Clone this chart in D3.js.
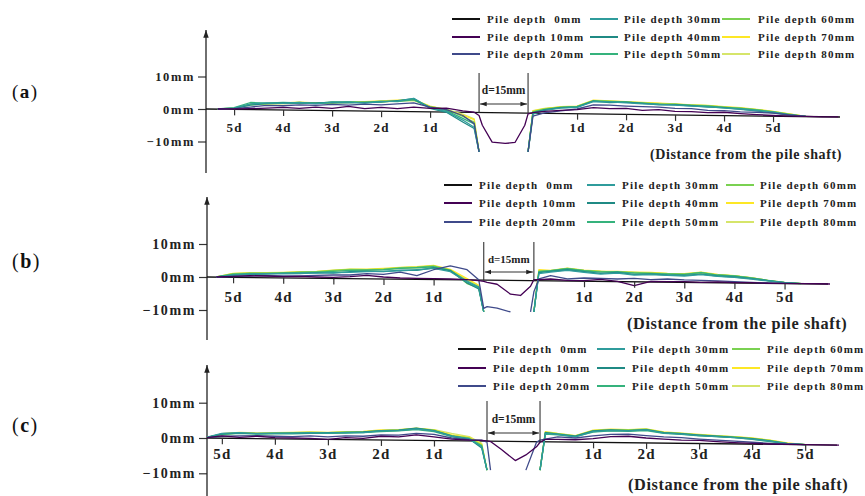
<!DOCTYPE html>
<html><head><meta charset="utf-8">
<script src="https://cdn.jsdelivr.net/npm/d3@7"></script>
<style>
html,body{margin:0;padding:0;background:#fff;}
svg{display:block;font-family:"Liberation Serif","Times New Roman",serif;}
</style></head><body>
<svg id="chart" width="865" height="496"></svg>
<script>
const _ = null;
// distance along the surface in mm (pile occupies 0..15 mm, d = 15 mm)
const xGrid = [-80,-75,-70,-65,-60,-55,-50,-45,-40,-35,-30,-25,-20,-15,-10,-5,-1.5,0,1,4,8,11,14,15,16.5,20,25,30,35,40,45,50,55,60,65,70,75,80,85,90,95,100,105,110];

const seriesLabels = ["Pile depth  0mm","Pile depth 10mm","Pile depth 20mm","Pile depth 30mm","Pile depth 40mm","Pile depth 50mm","Pile depth 60mm","Pile depth 70mm","Pile depth 80mm"];

// (a) surface displacement in mm
const zeroA = [[-83.6,0],[110.5,-2.46]];
const A10 = [0,0,0.1,0.3,0.5,0.2,0.6,0.2,0.8,0.1,0.5,0.1,0.6,0.2,0.3,-0.6,-1.0,-2.0,-5.0,-10.2,-10.6,-10.3,-5.0,-1.5,-1.1,-0.7,-0.4,-0.2,0.4,0.1,0.2,-0.4,-0.2,-0.7,-0.8,-1.1,-1.0,-1.4,-1.7,-2.0,-2.2,-2.3,-2.4,-2.45];
const A20 = [0,0.1,0.6,1.1,1.0,1.3,1.1,1.4,1.2,1.5,1.3,1.6,1.9,0.6,-0.2,-2.0,-4.5,-13.2,_,_,_,_,_,-13.2,-2.2,-1.2,-0.6,0.0,1.3,1.2,0.9,0.7,0.6,0.2,0.1,-0.4,-0.5,-0.9,-1.0,-1.3,-1.8,-2.3,_,_];
const A30 = [0,0.3,1.6,1.9,1.7,2.0,1.6,2.1,2.2,1.8,2.3,2.4,3.3,0.4,-0.8,-3.4,-5.6,-13.2,_,_,_,_,_,-13.2,-1.6,-0.4,0.3,0.5,2.3,2.2,1.9,1.6,1.4,1.2,0.9,0.7,0.3,0.0,-0.5,-1.0,-1.8,-2.3,_,_];
const A40 = [0,0.2,1.2,1.7,1.9,1.8,1.9,2.0,1.9,2.0,2.1,2.6,3.2,0.2,-1.0,-4.0,-6.0,-13.2,_,_,_,_,_,-13.2,-1.3,-0.3,0.4,0.6,2.4,2.0,2.1,1.7,1.3,1.3,1.0,0.6,0.4,-0.1,-0.6,-1.2,-1.9,-2.3,_,_];
const A50 = [0,0.4,2.0,1.8,2.0,1.9,1.7,2.2,2.1,2.0,2.4,2.3,2.8,0.5,-0.5,-2.9,-4.6,-13.2,_,_,_,_,_,-13.2,-1.0,-0.2,0.5,0.7,2.5,2.3,2.1,1.8,1.5,1.4,1.1,0.9,0.5,0.2,-0.3,-0.9,-1.7,-2.3,_,_];
const A60 = [0,0.2,1.4,1.6,1.8,2.0,1.8,1.9,2.3,2.1,2.2,2.5,2.9,0.7,-0.1,-2.3,-4.0,-13.2,_,_,_,_,_,-13.2,-0.8,0.0,0.6,0.8,2.6,2.4,2.2,1.9,1.6,1.5,1.2,1.0,0.6,0.3,-0.2,-0.8,-1.6,-2.3,_,_];
const A70 = [0,0.3,1.5,1.7,1.9,2.1,1.9,2.0,2.2,2.3,2.5,2.7,2.9,0.9,-0.3,-1.9,-3.3,-13.2,_,_,_,_,_,-13.2,-0.6,0.1,0.7,0.9,2.7,2.5,2.3,2.0,1.8,1.6,1.3,1.1,0.7,0.4,-0.1,-0.7,-1.5,-2.3,_,_];
const A80 = [0,0.2,1.3,1.5,1.6,1.8,1.7,1.8,2.0,2.1,2.2,2.4,2.6,0.8,-0.1,-1.6,-3.0,-13.2,_,_,_,_,_,-13.2,-0.5,0.2,0.6,0.8,2.4,2.3,2.1,1.9,1.7,1.4,1.2,1.0,0.6,0.3,-0.2,-0.8,-1.6,-2.3,_,_];

// (b)
const zeroB = [[-82.8,0],[103,-2.12]];
const B10 = [0,0.2,0.4,0.3,0.1,0.2,0.0,-0.1,0.1,0.5,0.0,-0.3,-0.4,-0.5,-0.6,-0.8,-1.1,-1.3,-1.6,-2.2,-5.2,-5.6,-2.8,-0.8,-0.8,-0.6,-1.0,-1.1,-0.7,-1.3,-2.6,-1.3,-1.4,-1.4,-1.6,-1.5,-1.7,-1.7,-1.9,-1.95,-2.0,-2.05,-2.15,_];
const B20 = [0,0.1,0.3,0.4,0.3,0.3,0.5,0.6,0.6,1.0,0.8,1.5,0.4,2.2,3.4,2.2,-0.8,-9.5,-9.0,-9.4,-10.6,_,-10.6,-4.5,-0.6,0.4,-0.6,-0.3,-0.4,-0.6,-0.4,-0.8,-0.6,-0.9,-1.0,-1.2,-1.4,-1.6,-1.8,-1.95,_,_,_,_];
const B30 = [0,0.6,0.9,1.0,1.0,1.1,1.2,1.3,1.4,1.6,1.7,1.9,2.2,2.6,1.6,-1.5,-3.2,-10.6,_,_,_,_,_,-10.6,1.0,1.5,2.0,1.4,0.9,1.2,0.6,0.7,0.5,0.3,0.7,0.2,-0.1,-0.6,-1.2,-1.7,-2.0,_,_,_];
const B40 = [0,0.5,0.8,0.9,1.1,1.0,1.3,1.2,1.6,1.8,1.6,2.1,2.0,2.8,1.9,-1.8,-3.6,-10.6,_,_,_,_,_,-10.6,1.3,1.7,2.2,1.6,1.1,1.4,0.8,0.9,0.6,0.5,0.9,0.3,0.0,-0.5,-1.1,-1.7,-2.0,_,_,_];
const B50 = [0,0.8,1.1,1.1,1.2,1.4,1.5,1.7,2.0,2.1,2.2,2.6,2.8,3.1,2.0,-1.2,-3.0,-10.6,_,_,_,_,_,-10.6,1.6,1.9,2.5,1.9,1.5,1.6,1.2,1.1,0.9,0.8,1.3,0.6,0.3,-0.3,-1.0,-1.6,-2.0,_,_,_];
const B60 = [0,1.0,1.2,1.2,1.3,1.5,1.6,2.0,2.3,2.2,2.4,2.8,3.0,3.4,2.1,-2.0,-3.3,-10.6,_,_,_,_,_,-10.6,1.8,1.9,2.6,2.0,1.7,1.5,1.4,1.2,1.0,0.9,1.4,0.6,0.3,-0.3,-1.1,-1.7,-2.0,_,_,_];
const B70 = [0,1.1,1.3,1.3,1.4,1.6,1.7,2.1,2.4,2.4,2.6,2.9,3.1,3.5,2.3,-0.5,-2.5,-10.6,_,_,_,_,_,-10.6,2.2,2.0,2.7,2.1,1.8,1.7,1.5,1.4,1.1,1.0,1.5,0.8,0.4,-0.2,-1.0,-1.6,-2.0,_,_,_];
const B80 = [0,0.9,1.1,1.1,1.2,1.4,1.5,1.8,2.1,2.0,2.3,2.6,2.8,3.1,2.0,-0.8,-2.7,-10.6,_,_,_,_,_,-10.6,2.0,1.8,2.4,1.9,1.6,1.5,1.3,1.2,1.0,0.8,1.2,0.6,0.3,-0.3,-1.1,-1.7,-2.0,_,_,_];

// (c)
const zeroC = [[-79.2,0],[99,-2.0]];
const C10 = [0,0.6,0.2,0.5,0.1,0.0,-0.1,-0.4,0.1,-0.1,0.5,0.3,0.9,0.3,-0.3,-0.6,-0.7,-0.8,-1.0,-3.2,-6.4,-4.8,-2.5,-1.2,-0.4,-0.4,-0.5,-0.2,0.4,0.5,0.0,-0.3,-0.6,-0.7,-1.0,-1.3,-1.5,-1.7,-1.8,-1.9,-1.95,-2.0,-2.1,_];
const C20 = [0,0.5,0.6,0.7,0.5,0.4,0.6,0.3,0.6,0.5,0.9,0.8,1.3,1.0,0.0,-0.5,-0.6,-1.2,-9.1,_,_,-9.1,-1.2,-0.6,-0.3,0.3,0.0,0.6,1.0,1.1,0.7,0.3,0.1,-0.3,-0.6,-0.9,-1.2,-1.5,-1.7,-1.9,_,_,_,_];
const C30 = [0,1.3,1.5,1.2,1.4,1.3,1.5,1.4,1.6,1.5,2.0,2.1,2.6,2.0,0.5,-0.2,-2.5,-9.1,_,_,_,_,_,-9.1,1.3,1.0,0.3,1.8,2.1,2.0,2.3,1.4,1.1,0.7,0.4,0.1,-0.3,-0.9,-1.6,-1.9,_,_,_,_];
const C40 = [0,1.2,1.4,1.3,1.3,1.4,1.4,1.5,1.5,1.7,2.1,2.2,2.8,2.1,0.6,-0.3,-2.8,-9.1,_,_,_,_,_,-9.1,1.5,1.1,0.5,2.0,2.3,2.1,2.4,1.5,1.2,0.8,0.5,0.2,-0.2,-0.8,-1.6,-1.9,_,_,_,_];
const C50 = [0,1.0,1.3,1.1,1.2,1.2,1.3,1.3,1.4,1.5,1.8,2.0,2.4,1.8,0.4,-0.4,-2.2,-9.1,_,_,_,_,_,-9.1,1.1,0.9,0.4,1.7,2.0,1.9,2.1,1.3,1.0,0.6,0.4,0.1,-0.4,-1.0,-1.6,-1.9,_,_,_,_];
const C60 = [0,1.1,1.4,1.3,1.4,1.5,1.6,1.5,1.7,1.7,2.1,2.3,2.7,2.2,0.7,0.0,-2.0,-9.1,_,_,_,_,_,-9.1,1.6,1.2,0.6,2.1,2.4,2.3,2.5,1.6,1.3,0.9,0.6,0.3,-0.1,-0.7,-1.5,-1.9,_,_,_,_];
const C70 = [0,1.2,1.6,1.4,1.5,1.6,1.7,1.6,1.8,1.9,2.3,2.4,2.8,2.3,0.9,0.2,-1.8,-9.1,_,_,_,_,_,-9.1,1.8,1.3,0.7,2.2,2.5,2.4,2.6,1.7,1.4,1.0,0.7,0.4,0.0,-0.6,-1.4,-1.9,_,_,_,_];
const C80 = [0,1.0,1.4,1.2,1.3,1.4,1.5,1.4,1.6,1.7,2.0,2.2,2.5,2.4,1.3,0.4,-1.5,-9.1,_,_,_,_,_,-9.1,1.4,1.0,0.5,1.9,2.2,2.1,2.3,1.5,1.2,0.8,0.5,0.3,-0.1,-0.7,-1.5,-1.9,_,_,_,_];

const leftTicks = [-75,-60,-45,-30,-15];
const rightTicks = [30,45,60,75,90];
const xTickLabels = ["5d","4d","3d","2d","1d","1d","2d","3d","4d","5d"];
const yTickValues = [10,0,-10];
const yTickLabels = ["10mm","0mm","\u221210mm"];
const pileSpan = [0,15];
const pileLabel = "d=15mm";
const distanceLabel = "(Distance from the pile shaft)";
const panelLetters = ["a","b","c"];

// styles
const depthColors = ["#111111","#440154","#3f4a8a","#2f9c9c","#1f8a84","#35b27c","#7ad151","#fde725","#d6e56a"];

const panelData = [
  {zero: zeroA, series: [A10,A20,A30,A40,A50,A60,A70,A80]},
  {zero: zeroB, series: [B10,B20,B30,B40,B50,B60,B70,B80]},
  {zero: zeroC, series: [C10,C20,C30,C40,C50,C60,C70,C80]}
];

const layout = [
  {labelX:12, labelY:98, labelFont:19, axisX:206, axisTop:28, axisBottom:173,
   xRng:[206,840], y0:109, pxPer10:32.5, yFont:12.5, xFont:13, xLabelY:132,
   legRows:[19,37,54], legLineX:[452,590,722], legTextX:[487,624,758], legFont:11,
   distX:650, distY:159, distFont:14, pileTop:73, dLabelY:94, arrowY:104, dFont:11.5},
  {labelX:12, labelY:268, labelFont:20, axisX:207, axisTop:195, axisBottom:340,
   xRng:[207,828], y0:277, pxPer10:33, yFont:14, xFont:15, xLabelY:302,
   legRows:[185,203,222], legLineX:[444,587,726], legTextX:[479,622,760], legFont:11,
   distX:627, distY:329, distFont:16.3, pileTop:242, dLabelY:263, arrowY:272, dFont:11},
  {labelX:12, labelY:432, labelFont:20, axisX:207, axisTop:363, axisBottom:496,
   xRng:[207,837], y0:438, pxPer10:35.3, yFont:14, xFont:15, xLabelY:459,
   legRows:[349,368,386], legLineX:[458,597,732], legTextX:[493,632,767], legFont:11,
   distX:628, distY:490, distFont:16.3, pileTop:401, dLabelY:423, arrowY:433, dFont:11.5}
];

const svg = d3.select("#chart");
const defs = svg.append("defs");
defs.append("marker").attr("id","arr").attr("viewBox","0 0 10 10").attr("refX",10).attr("refY",5)
  .attr("markerWidth",6).attr("markerHeight",6).attr("orient","auto-start-reverse")
  .append("path").attr("d","M0,1.5 L10,5 L0,8.5 Z").attr("fill","#222");

panelData.forEach((pd, pi) => {
  const L = layout[pi];
  const g = svg.append("g");
  const zero = pd.zero;
  const x = d3.scaleLinear().domain([zero[0][0], zero[1][0]]).range(L.xRng);
  const y = d3.scaleLinear().domain([-10, 10]).range([L.y0 + L.pxPer10, L.y0 - L.pxPer10]);
  const zeroAt = d3.scaleLinear().domain([zero[0][0], zero[1][0]]).range([zero[0][1], zero[1][1]]);

  const clipId = "clip" + pi;
  defs.append("clipPath").attr("id", clipId).append("rect")
    .attr("x", L.axisX).attr("y", L.axisTop).attr("width", L.xRng[1] - L.axisX + 2).attr("height", L.axisBottom - L.axisTop);

  // panel label
  const pl = g.append("text").attr("x", L.labelX).attr("y", L.labelY)
    .style("font-size", L.labelFont + "px").style("letter-spacing","1.5px").attr("fill","#111");
  pl.append("tspan").text("(");
  pl.append("tspan").style("font-weight","bold").text(panelLetters[pi]);
  pl.append("tspan").text(")");

  // y axis
  const yAxis = d3.axisLeft(y).tickValues(yTickValues).tickFormat((d,i)=>yTickLabels[i]).tickSize(8).tickPadding(3);
  const ya = g.append("g").attr("transform", `translate(${L.axisX},0)`).call(yAxis);
  ya.select(".domain").remove();
  ya.selectAll(".tick line").attr("stroke","#333").attr("stroke-width",1.2);
  ya.selectAll(".tick text").style("font-family",'"Liberation Serif",serif').style("font-weight","bold")
    .style("font-size", L.yFont + "px").style("letter-spacing","1.6px").attr("fill","#222");
  g.append("line").attr("x1", L.axisX).attr("x2", L.axisX).attr("y1", L.axisBottom).attr("y2", L.axisTop + 2)
    .attr("stroke","#222").attr("stroke-width",1.3).attr("marker-end","url(#arr)");

  // series lines
  const line = d3.line().defined(d => d[1] !== null).x(d => x(d[0])).y(d => y(d[1]));
  const lg = g.append("g").attr("clip-path", `url(#${clipId})`);
  lg.append("path").datum(zero).attr("d", line).attr("fill","none")
    .attr("stroke", depthColors[0]).attr("stroke-width",1.3);
  for (let s = pd.series.length - 1; s >= 0; s--) {
    const vals = xGrid.map((gx, k) => [gx, pd.series[s][k] === undefined ? null : pd.series[s][k]]);
    lg.append("path").datum(vals).attr("d", line).attr("fill","none")
      .attr("stroke", depthColors[s + 1]).attr("stroke-width",1.3).attr("stroke-linejoin","round");
  }

  // x axis ticks hanging from the 0mm line
  const tickVals = leftTicks.concat(rightTicks);
  const xAxis = d3.axisBottom(x).tickValues(tickVals).tickFormat((d,i)=>xTickLabels[i]).tickSize(6);
  const xa = g.append("g").call(xAxis);
  xa.select(".domain").remove();
  xa.selectAll(".tick line").each(function(d){
    const yb = y(zeroAt(d));
    d3.select(this).attr("y1", yb).attr("y2", yb + 6).attr("stroke","#333").attr("stroke-width",1.2);
  });
  xa.selectAll(".tick text").attr("y", L.xLabelY).attr("dy", 0)
    .style("font-family",'"Liberation Serif",serif').style("font-weight","bold")
    .style("font-size", L.xFont + "px").style("letter-spacing","1.2px").attr("fill","#222");

  // pile markers
  const pL = x(pileSpan[0]), pR = x(pileSpan[1]);
  [pL, pR].forEach(px => {
    g.append("line").attr("x1", px).attr("x2", px).attr("y1", L.pileTop).attr("y2", y(zeroAt(pileSpan[0])) + 0.5)
      .attr("stroke","#333").attr("stroke-width",1.1);
  });
  g.append("line").attr("x1", pL + 1).attr("x2", pR - 1).attr("y1", L.arrowY).attr("y2", L.arrowY)
    .attr("stroke","#333").attr("stroke-width",1.1)
    .attr("marker-start","url(#arr)").attr("marker-end","url(#arr)");
  g.append("text").attr("x", (pL + pR) / 2).attr("y", L.dLabelY).attr("text-anchor","middle")
    .style("font-weight","bold").style("font-size", L.dFont + "px").attr("fill","#222").text(pileLabel);

  // distance label
  g.append("text").attr("x", L.distX).attr("y", L.distY)
    .style("font-weight","bold").style("font-size", L.distFont + "px").style("letter-spacing","0.6px")
    .attr("fill","#222").text(distanceLabel);

  // legend
  seriesLabels.forEach((lab, i) => {
    const col = Math.floor(i / 3), row = i % 3;
    const ly = L.legRows[row];
    g.append("line").attr("x1", L.legLineX[col]).attr("x2", L.legLineX[col] + 28)
      .attr("y1", ly).attr("y2", ly).attr("stroke", depthColors[i]).attr("stroke-width", 2);
    g.append("text").attr("x", L.legTextX[col]).attr("y", ly + 4)
      .style("white-space","pre").style("font-weight","bold").style("font-size", L.legFont + "px")
      .style("letter-spacing","1.2px").attr("fill","#222").text(lab);
  });
});
</script>
</body></html>
